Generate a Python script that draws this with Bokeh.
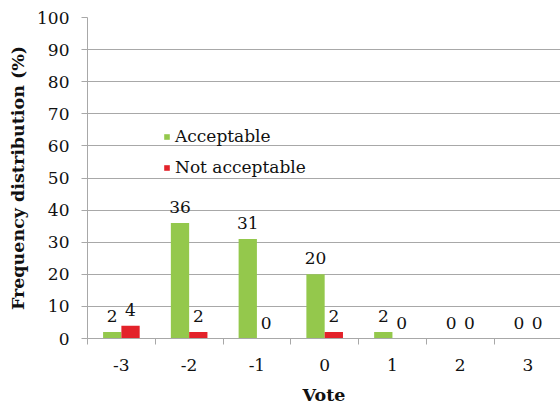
from bokeh.plotting import figure
from bokeh.models import (ColumnDataSource, Range1d, FixedTicker, Legend, LegendItem)
from bokeh.core.properties import value
from bokeh.embed import file_html
from bokeh.resources import INLINE

# Vote categories and frequency distribution (%) per group
votes = ["-3", "-2", "-1", "0", "1", "2", "3"]
acceptable = [2, 36, 31, 20, 2, 0, 0]
not_acceptable = [4, 2, 0, 2, 0, 0, 0]
y_ticks = [0, 10, 20, 30, 40, 50, 60, 70, 80, 90, 100]

FONT = "DejaVu Serif"
SIZE = "17px"
TITLE_SIZE = "17.5px"
GREEN = "#94c84c"
RED = "#e3222a"
GRID = "#a8a8a8"
INK = "#111111"

centers = [i + 0.5 for i in range(len(votes))]
bar_w = 0.27

src_a = ColumnDataSource(dict(x=[c - bar_w / 2 for c in centers], y=acceptable,
                              lbl=[str(v) for v in acceptable]))
src_n = ColumnDataSource(dict(x=[c + bar_w / 2 for c in centers], y=not_acceptable,
                              lbl=[str(v) for v in not_acceptable]))

p = figure(width=560, height=407, output_backend="svg", toolbar_location=None,
           x_range=Range1d(0, 6.98), y_range=Range1d(0, 100),
           min_border_left=87, min_border_right=0, min_border_top=17,
           min_border_bottom=66)
p.outline_line_color = None
p.background_fill_color = "white"

ra = p.vbar(x="x", top="y", width=bar_w, source=src_a, fill_color=GREEN, line_color=None)
rn = p.vbar(x="x", top="y", width=bar_w, source=src_n, fill_color=RED, line_color=None)

# value labels above each bar
for src in (src_a, src_n):
    p.text(x="x", y="y", text="lbl", source=src, text_align="center",
           text_baseline="middle", y_offset=-16, text_color=INK,
           text_font=value(FONT), text_font_size=SIZE)

# x axis: labels at category centres, tick marks at category boundaries
xa = p.xaxis[0]
xa.ticker = FixedTicker(ticks=centers, minor_ticks=list(range(len(votes) + 1)))
xa.major_label_overrides = {c: v for c, v in zip(centers, votes)}
xa.major_tick_out = 0
xa.major_tick_in = 0
xa.minor_tick_out = 6
xa.minor_tick_in = 0
xa.minor_tick_line_color = GRID
xa.axis_line_color = GRID
xa.major_label_text_font = FONT
xa.major_label_text_font_size = SIZE
xa.major_label_text_color = INK
xa.major_label_standoff = 14
xa.axis_label = "Vote"
xa.axis_label_text_font = FONT
xa.axis_label_text_font_style = "bold"
xa.axis_label_text_font_size = TITLE_SIZE
xa.axis_label_text_color = INK
xa.axis_label_standoff = 11

ya = p.yaxis[0]
ya.ticker = FixedTicker(ticks=y_ticks)
ya.minor_tick_line_color = None
ya.major_tick_out = 6
ya.major_tick_in = 0
ya.major_tick_line_color = GRID
ya.axis_line_color = GRID
ya.major_label_text_font = FONT
ya.major_label_text_font_size = SIZE
ya.major_label_text_color = INK
ya.major_label_standoff = 12
ya.axis_label = "Frequency distribution (%)"
ya.axis_label_text_font = FONT
ya.axis_label_text_font_style = "bold"
ya.axis_label_text_font_size = TITLE_SIZE
ya.axis_label_text_color = INK
ya.axis_label_standoff = 6

p.xgrid.grid_line_color = None
p.ygrid.grid_line_color = GRID
p.ygrid.grid_line_width = 1

legend = Legend(items=[LegendItem(label="Acceptable", renderers=[ra]),
                       LegendItem(label="Not acceptable", renderers=[rn])],
                location=(76, 159), orientation="vertical",
                background_fill_alpha=0, border_line_color=None,
                padding=0, margin=0, spacing=7,
                glyph_width=7, glyph_height=7, label_height=24,
                label_standoff=5, label_text_font=FONT,
                label_text_font_size=SIZE, label_text_color=INK)
p.add_layout(legend, "center")

open("out.html", "w").write(file_html(p, INLINE))
